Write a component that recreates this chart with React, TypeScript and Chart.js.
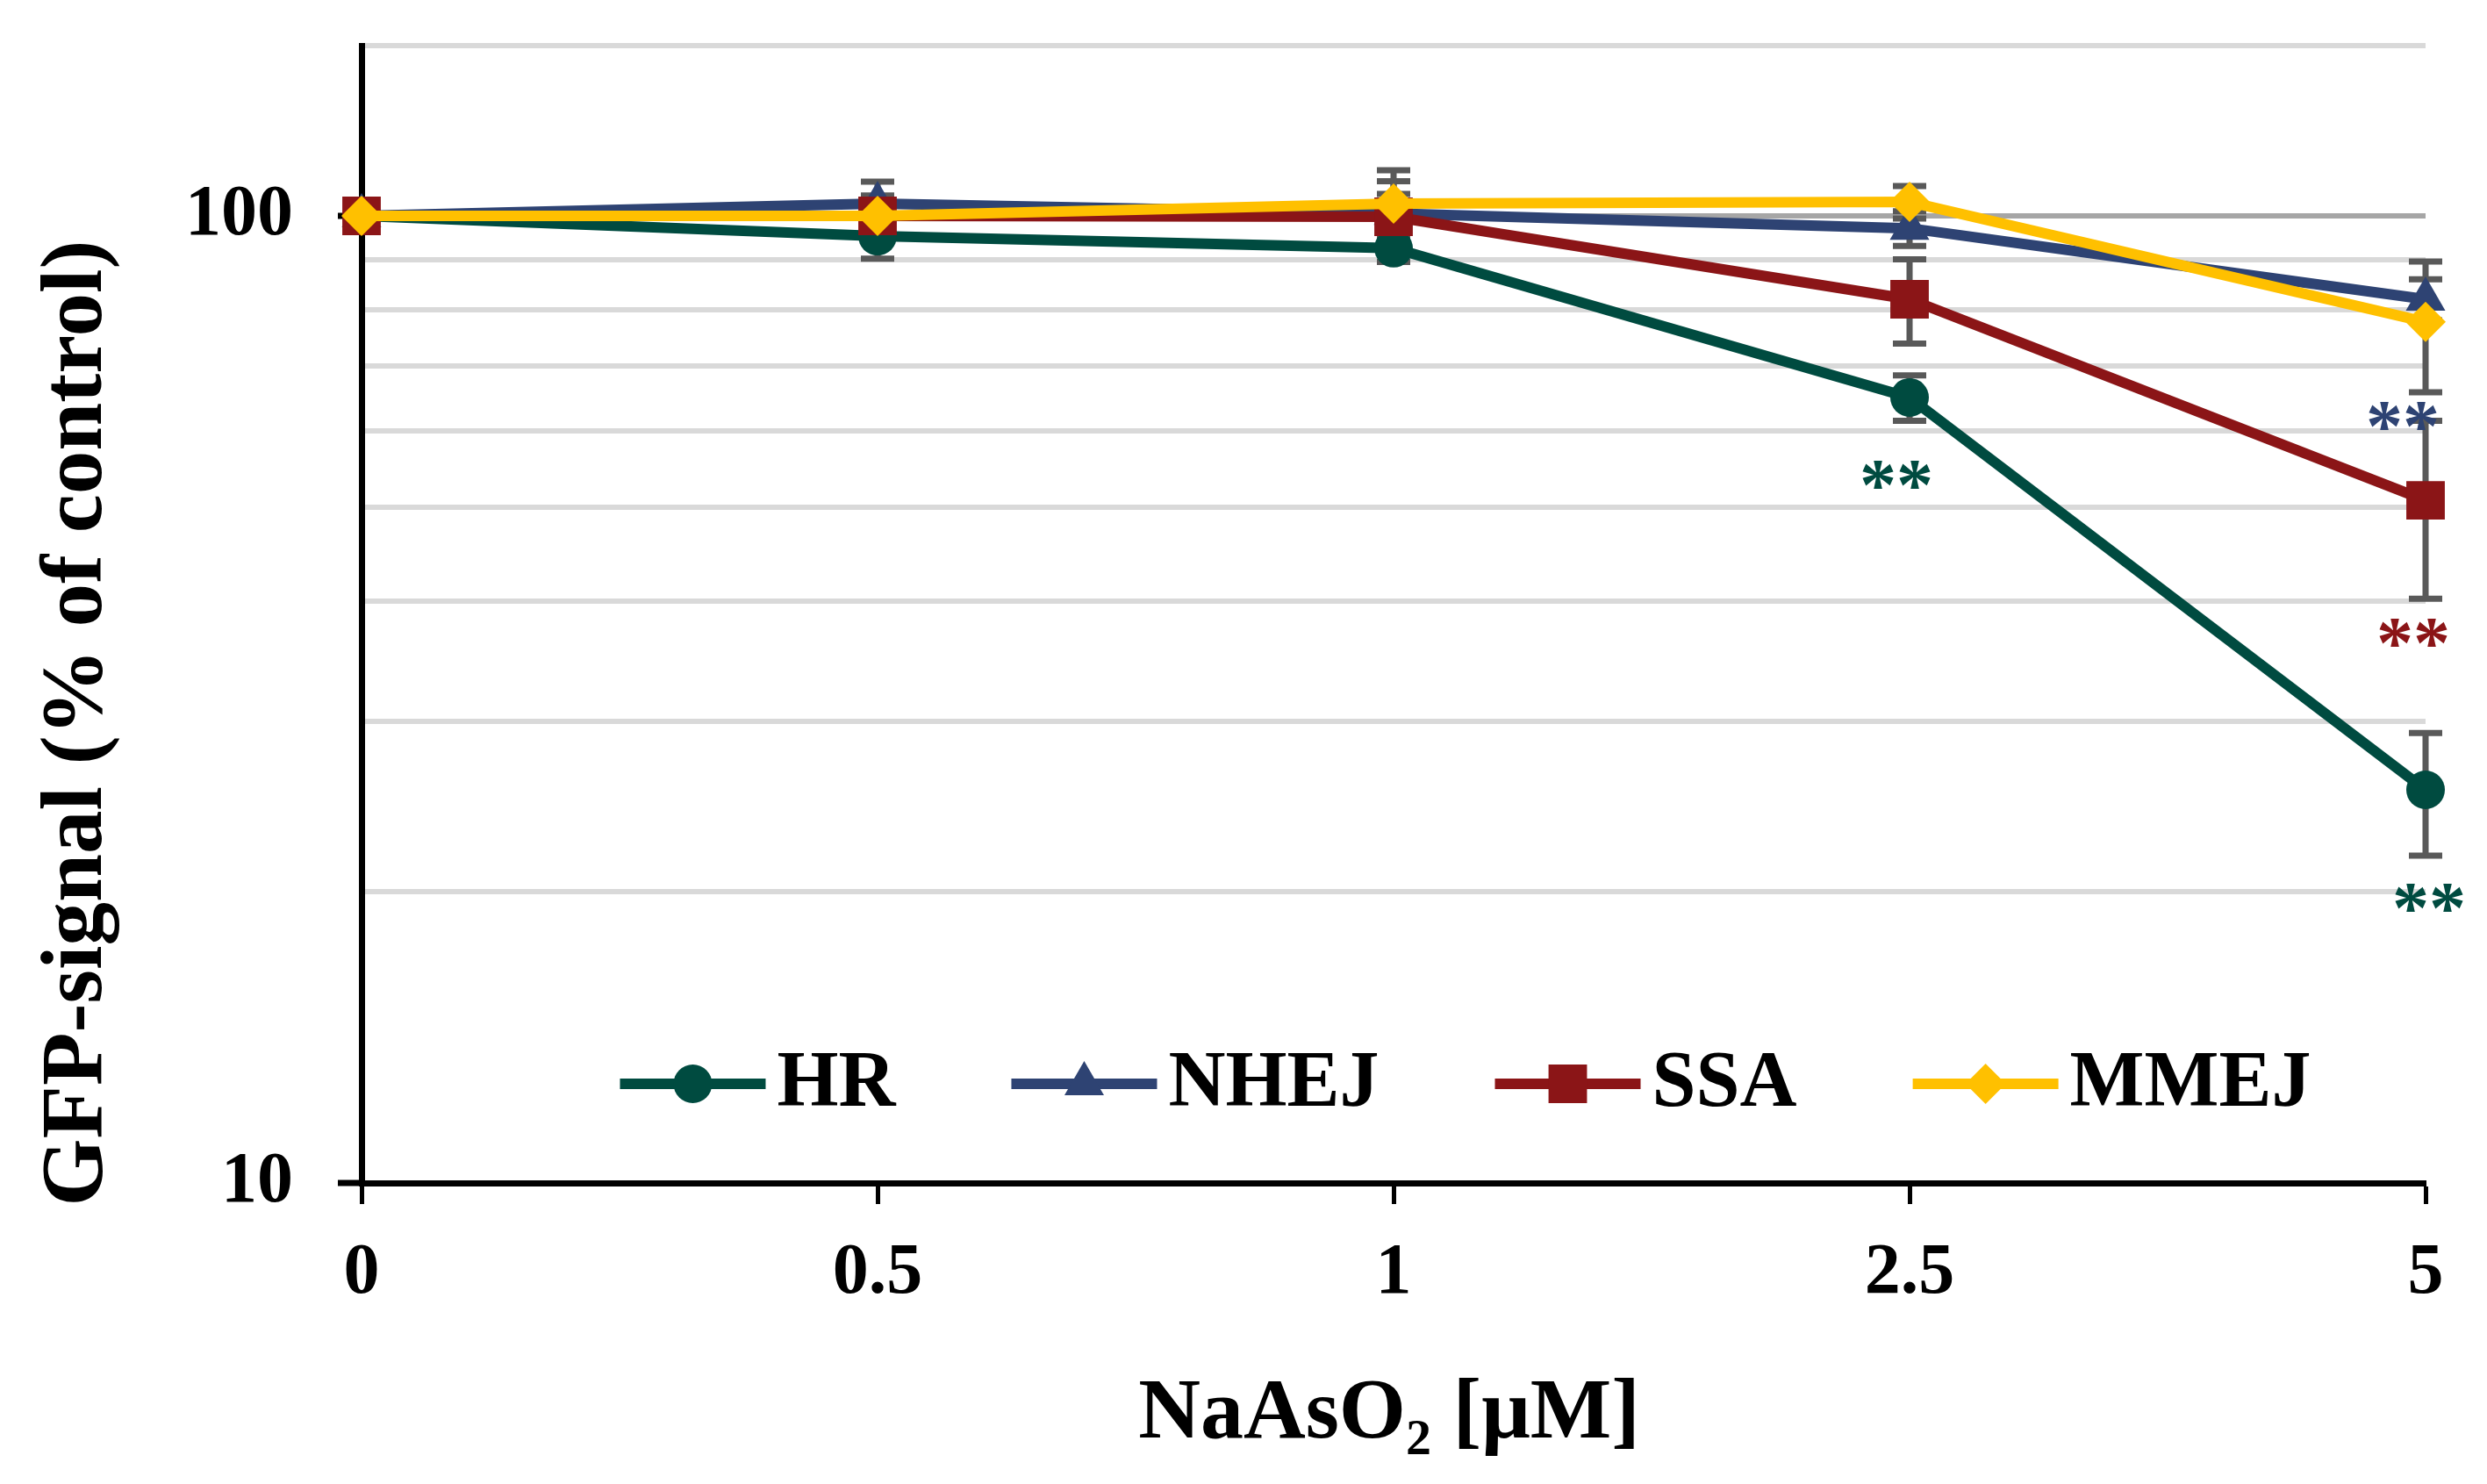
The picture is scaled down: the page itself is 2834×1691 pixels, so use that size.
import React, { useEffect, useRef } from 'react';
import { Chart, registerables } from 'chart.js';

Chart.register(...registerables);

// ---------- data ----------
const doses = ['0', '0.5', '1', '2.5', '5'];
const seriesNames = ['HR', 'NHEJ', 'SSA', 'MMEJ'];

const hrValues = [100, 95.3, 92.6, 64.9, 25.5];
const hrErrors = [0, 5, 3, 3.5, 3.7];
const nhejValues = [100, 103, 100.6, 97.1, 82];
const nhejErrors = [0, 5.5, 8, 4, 4];
const ssaValues = [100, 100, 99.8, 82, 50.8];
const ssaErrors = [0, 5, 5.6, 8.2, 10.6];
const mmejValues = [100, 100, 103, 103.4, 77.7];
const mmejErrors = [0, 3, 8.5, 4, 12];

const yTickValues = [10, 20, 30, 40, 50, 60, 70, 80, 90, 100, 150];
const yLabelValues = [10, 100];

// significance marks: series, dose index, value at glyph centre
const starSeries = ['HR', 'NHEJ', 'SSA', 'HR'];
const starDoseIndex = [3, 4, 4, 4];
const starValue = [53.9, 62.1, 37.0, 19.7];
const starText = '**';

const xTitleMain = 'NaAsO';
const xTitleSub = '2';
const xTitleRest = ' [μM]';
const yTitle = 'GFP-signal (% of control)';

// ---------- styles ----------
const W = 2834;
const H = 1691;
const FONT = 'Liberation Serif';
const colors = ['#004b40', '#2e4373', '#8b1517', '#ffc000'];
const pointStyles = ['circle', 'triangle', 'rect', 'rectRot'];
const pointRadii = [22, 26, 31, 23];
const errorColor = '#595959';
const starDx = [-15, -26, -14, 4];

const valuesList = [hrValues, nhejValues, ssaValues, mmejValues];
const errorsList = [hrErrors, nhejErrors, ssaErrors, mmejErrors];

function drawMarker(ctx: CanvasRenderingContext2D, style: string, x: number, y: number, r: number, color: string) {
  ctx.save();
  ctx.fillStyle = color;
  ctx.beginPath();
  if (style === 'circle') {
    ctx.arc(x, y, r, 0, Math.PI * 2);
  } else if (style === 'rect') {
    const s = Math.SQRT1_2 * r;
    ctx.rect(x - s, y - s, 2 * s, 2 * s);
  } else if (style === 'rectRot') {
    ctx.moveTo(x - r, y);
    ctx.lineTo(x, y - r);
    ctx.lineTo(x + r, y);
    ctx.lineTo(x, y + r);
    ctx.closePath();
  } else if (style === 'triangle') {
    ctx.moveTo(x, y - r);
    ctx.lineTo(x + 0.866 * r, y + 0.5 * r);
    ctx.lineTo(x - 0.866 * r, y + 0.5 * r);
    ctx.closePath();
  }
  ctx.fill();
  ctx.restore();
}

const errorBarPlugin = {
  id: 'errorBars',
  beforeDatasetsDraw(chart: any) {
    const ctx: CanvasRenderingContext2D = chart.ctx;
    const yScale = chart.scales.y;
    ctx.save();
    ctx.strokeStyle = errorColor;
    ctx.lineWidth = 7;
    ctx.lineCap = 'butt';
    errorsList.forEach((errs, i) => {
      const meta = chart.getDatasetMeta(i);
      errs.forEach((e, j) => {
        if (!e) return;
        const v = valuesList[i][j];
        const x = meta.data[j].x;
        const yt = yScale.getPixelForValue(v + e);
        const yb = yScale.getPixelForValue(v - e);
        ctx.beginPath();
        ctx.moveTo(x, yt);
        ctx.lineTo(x, yb);
        ctx.moveTo(x - 19, yt);
        ctx.lineTo(x + 19, yt);
        ctx.moveTo(x - 19, yb);
        ctx.lineTo(x + 19, yb);
        ctx.stroke();
      });
    });
    ctx.restore();
  },
};

const decorPlugin = {
  id: 'decor',
  afterDraw(chart: any) {
    const ctx: CanvasRenderingContext2D = chart.ctx;
    const area = chart.chartArea;
    const xScale = chart.scales.x;
    const yScale = chart.scales.y;

    // significance stars
    ctx.save();
    ctx.font = `bold 84px "${FONT}"`;
    ctx.textAlign = 'center';
    ctx.textBaseline = 'alphabetic';
    starSeries.forEach((s, k) => {
      const si = seriesNames.indexOf(s);
      ctx.fillStyle = colors[si];
      const x = xScale.getPixelForValue(starDoseIndex[k]) + starDx[k];
      const y = yScale.getPixelForValue(starValue[k]) + 0.47 * 84;
      ctx.fillText(starText, x, y);
    });
    ctx.restore();

    // legend
    ctx.save();
    ctx.font = `bold 90px "${FONT}"`;
    ctx.textBaseline = 'alphabetic';
    ctx.textAlign = 'left';
    const lineLen = 166;
    const gapText = 13;
    const gapItem = 132;
    const widths = seriesNames.map((n) => lineLen + gapText + ctx.measureText(n).width);
    const total = widths.reduce((a, b) => a + b, 0) + gapItem * (seriesNames.length - 1);
    const legendCenterX = area.left + 1258;
    const legendY = area.bottom - 113;
    let lx = legendCenterX - total / 2;
    seriesNames.forEach((n, i) => {
      ctx.strokeStyle = colors[i];
      ctx.lineWidth = 12;
      ctx.lineCap = 'butt';
      ctx.beginPath();
      ctx.moveTo(lx, legendY);
      ctx.lineTo(lx + lineLen, legendY);
      ctx.stroke();
      drawMarker(ctx, pointStyles[i], lx + lineLen / 2, legendY, pointRadii[i], colors[i]);
      ctx.fillStyle = '#000';
      ctx.fillText(n, lx + lineLen + gapText, legendY + 25);
      lx += widths[i] + gapItem;
    });
    ctx.restore();

    // x axis title with subscript
    ctx.save();
    ctx.fillStyle = '#000';
    ctx.textBaseline = 'alphabetic';
    ctx.textAlign = 'left';
    const mainFont = `bold 98px "${FONT}"`;
    const subFont = `bold 58px "${FONT}"`;
    ctx.font = mainFont;
    const w1 = ctx.measureText(xTitleMain).width;
    const w3 = ctx.measureText(xTitleRest).width;
    ctx.font = subFont;
    const w2 = ctx.measureText(xTitleSub).width;
    const tw = w1 + w2 + w3;
    const cx = (area.left + area.right) / 2 - 5;
    const by = area.bottom + 290;
    let tx = cx - tw / 2;
    ctx.font = mainFont;
    ctx.fillText(xTitleMain, tx, by);
    tx += w1;
    ctx.font = subFont;
    ctx.fillText(xTitleSub, tx, by + 19);
    tx += w2;
    ctx.font = mainFont;
    ctx.fillText(xTitleRest, tx, by);
    ctx.restore();

    // y axis title
    ctx.save();
    ctx.fillStyle = '#000';
    ctx.font = `bold 99px "${FONT}"`;
    ctx.textAlign = 'center';
    ctx.textBaseline = 'alphabetic';
    ctx.translate(area.left - 297, area.top + 772);
    ctx.rotate(-Math.PI / 2);
    ctx.fillText(yTitle, 0, 0);
    ctx.restore();
  },
};

export default function App() {
  const canvasRef = useRef<HTMLCanvasElement | null>(null);

  useEffect(() => {
    document.body.style.margin = '0';
    const canvas = canvasRef.current;
    if (!canvas) return;
    const datasets = seriesNames.map((name, i) => ({
      label: name,
      data: valuesList[i],
      borderColor: colors[i],
      backgroundColor: colors[i],
      borderWidth: 12,
      borderJoinStyle: 'round' as const,
      pointStyle: pointStyles[i],
      pointRadius: pointRadii[i],
      pointHoverRadius: pointRadii[i],
      pointBorderWidth: 0,
      pointBackgroundColor: colors[i],
      pointBorderColor: colors[i],
      tension: 0,
      clip: false as const,
      order: seriesNames.length - i,
    }));

    const chart = new Chart(canvas, {
      type: 'line',
      data: { labels: doses, datasets },
      options: {
        animation: false,
        responsive: false,
        devicePixelRatio: 1,
        layout: { padding: { top: 52, right: 70, left: 0, bottom: 0 } },
        plugins: {
          legend: { display: false },
          tooltip: { enabled: false },
        },
        scales: {
          x: {
            type: 'category',
            offset: false,
            grid: {
              display: true,
              drawOnChartArea: false,
              drawTicks: true,
              tickLength: 24,
              tickWidth: 5,
              tickColor: '#000',
            },
            border: { display: true, color: '#000', width: 7 },
            ticks: {
              color: '#000',
              font: { family: FONT, weight: 'bold', size: 82 },
              padding: 31,
              maxRotation: 0,
              autoSkip: false,
            },
            afterFit: (s: any) => {
              s.height = H - 1348;
              s.paddingLeft = 0;
              s.paddingRight = 0;
            },
          },
          y: {
            type: 'logarithmic',
            min: 10,
            max: 150,
            afterBuildTicks: (s: any) => {
              s.ticks = yTickValues.map((v) => ({ value: v }));
            },
            ticks: {
              color: '#000',
              font: { family: FONT, weight: 'bold', size: 82 },
              padding: 51,
              autoSkip: false,
              callback: (v: any) => (yLabelValues.includes(Number(v)) ? String(v) : ''),
            },
            grid: {
              lineWidth: 6,
              color: (c: any) => {
                const v = c.tick ? c.tick.value : 0;
                if (v === 10) return 'rgba(0,0,0,0)';
                if (v === 100) return '#a6a6a6';
                return '#d9d9d9';
              },
              drawTicks: true,
              tickLength: 27,
              tickWidth: 7,
              tickColor: (c: any) => (c.tick && yLabelValues.includes(c.tick.value) ? '#000' : 'rgba(0,0,0,0)'),
            },
            border: { display: true, color: '#000', width: 7 },
            afterFit: (s: any) => {
              s.width = 412;
              s.paddingTop = 0;
              s.paddingBottom = 0;
            },
          },
        },
      },
      plugins: [errorBarPlugin, decorPlugin],
    } as any);

    return () => chart.destroy();
  }, []);

  return (
    <div style={{ width: W, height: H, background: '#fff' }}>
      <canvas ref={canvasRef} width={W} height={H} style={{ display: 'block', width: W, height: H }} />
    </div>
  );
}
